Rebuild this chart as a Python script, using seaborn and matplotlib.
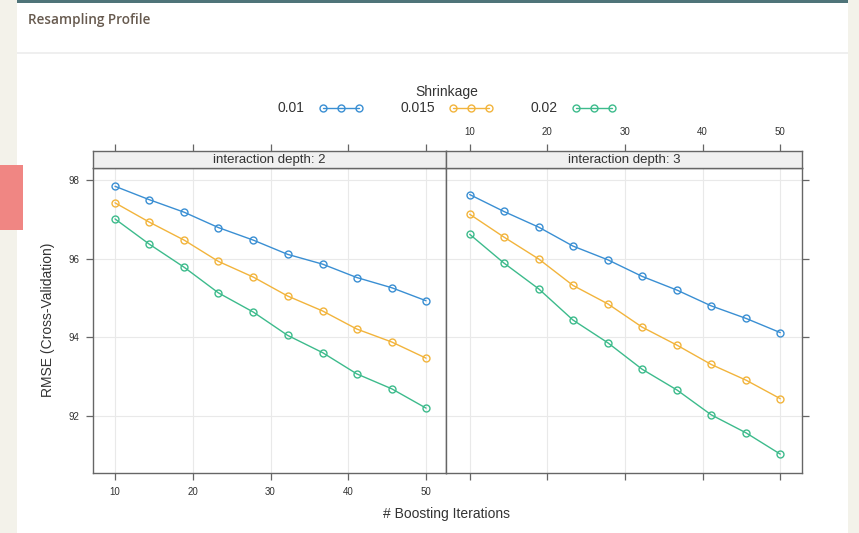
import numpy as np
import pandas as pd
import matplotlib
matplotlib.use("Agg")
import matplotlib.pyplot as plt
import seaborn as sns
from matplotlib.lines import Line2D
from matplotlib.patches import Rectangle

# ---------------- data ----------------
iterations = [10, 14.4, 18.9, 23.3, 27.8, 32.2, 36.7, 41.1, 45.6, 50]
shrinkage_levels = ["0.01", "0.015", "0.02"]
depth_levels = [2, 3]
rmse_d2_s001 = [97.84, 97.50, 97.18, 96.79, 96.47, 96.11, 95.86, 95.52, 95.26, 94.93]
rmse_d2_s0015 = [97.42, 96.93, 96.47, 95.93, 95.53, 95.05, 94.67, 94.21, 93.88, 93.47]
rmse_d2_s002 = [97.01, 96.37, 95.78, 95.13, 94.64, 94.05, 93.61, 93.07, 92.69, 92.20]
rmse_d3_s001 = [97.63, 97.20, 96.80, 96.32, 95.97, 95.55, 95.20, 94.80, 94.48, 94.12]
rmse_d3_s0015 = [97.13, 96.55, 95.99, 95.32, 94.85, 94.26, 93.80, 93.31, 92.91, 92.44]
rmse_d3_s002 = [96.62, 95.89, 95.23, 94.44, 93.86, 93.19, 92.66, 92.03, 91.57, 91.03]
x_ticks = [10, 20, 30, 40, 50]
y_ticks = [92, 94, 96, 98]
strip_labels = ["interaction depth: 2", "interaction depth: 3"]

series_by_depth = {
    2: [rmse_d2_s001, rmse_d2_s0015, rmse_d2_s002],
    3: [rmse_d3_s001, rmse_d3_s0015, rmse_d3_s002],
}
records = []
for depth in depth_levels:
    for lvl, vals in zip(shrinkage_levels, series_by_depth[depth]):
        for it, v in zip(iterations, vals):
            records.append({"iterations": it, "RMSE": v, "shrinkage": lvl, "depth": depth})
df = pd.DataFrame(records)

colors = ["#3A8FD3", "#F2B43C", "#3DBB8C"]
palette = dict(zip(shrinkage_levels, colors))

# ---------------- style ----------------
sns.set_style("white")
plt.rcParams["font.family"] = ["Liberation Sans", "DejaVu Sans"]

W, H = 859, 533
fig = plt.figure(figsize=(W / 100, H / 100), dpi=100)
fig.patch.set_facecolor("white")


def rect(l, t, r, b):
    return [l / W, 1 - b / H, (r - l) / W, (b - t) / H]


def fig_rect(l, t, w, h, color, z=-10):
    fig.add_artist(Rectangle((l / W, 1 - (t + h) / H), w / W, h / H,
                             transform=fig.transFigure, facecolor=color,
                             edgecolor="none", zorder=z))


# page decorations
fig_rect(0, 0, 17, H, "#f3f2ea")
fig_rect(848, 0, W - 848, H, "#f3f2ea")
fig_rect(17, 0, 831, 3, "#4f7479")
fig_rect(17, 52, 831, 1.5, "#efefef")
fig_rect(0, 165, 23, 65, "#f08683")
fig.text(28 / W, 1 - 20 / H, "Resampling Profile", va="center", ha="left",
         fontsize=9.8, fontweight="semibold", color="#675a4f",
         family=["Open Sans", "DejaVu Sans"])

frame_col = "#666666"
tick_kw = dict(direction="out", length=5, width=0.9, colors=frame_col,
               labelcolor="#333333", labelsize=7, pad=5)

panels = [
    dict(depth=2, box=(93, 168, 446, 473), strip=(93, 151, 446, 168), xlim=(7.17, 52.57)),
    dict(depth=3, box=(446, 168, 802, 473), strip=(446, 151, 802, 168), xlim=(6.95, 52.8)),
]
ylim = (90.55, 98.305)

for i, p in enumerate(panels):
    ax = fig.add_axes(rect(*p["box"]))
    sub = df[df["depth"] == p["depth"]]
    sns.lineplot(data=sub, x="iterations", y="RMSE", hue="shrinkage",
                 hue_order=shrinkage_levels, palette=palette, marker="o",
                 markersize=5, linewidth=1.0, legend=False, ax=ax,
                 errorbar=None)
    for ln in ax.lines:
        ln.set_markerfacecolor("none")
        ln.set_markeredgecolor(ln.get_color())
        ln.set_markeredgewidth(1.0)
    ax.set_xlim(*p["xlim"])
    ax.set_ylim(*ylim)
    ax.set_xticks(x_ticks)
    ax.set_yticks(y_ticks)
    ax.grid(True, color="#e9e9e9", linewidth=0.8)
    ax.set_axisbelow(True)
    ax.set_xlabel("")
    ax.set_ylabel("")
    for s in ax.spines.values():
        s.set_color(frame_col)
        s.set_linewidth(1.0)
    ax.tick_params(axis="both", **tick_kw)
    if i == 0:
        ax.tick_params(axis="x", bottom=True, top=False, labelbottom=True)
        ax.tick_params(axis="y", left=True, right=False, labelleft=True)
    else:
        ax.tick_params(axis="x", bottom=True, top=False, labelbottom=False)
        ax.tick_params(axis="y", left=False, right=True, labelleft=False,
                       labelright=False)

    sax = fig.add_axes(rect(*p["strip"]))
    sax.set_facecolor("#f0f0f0")
    sax.set_xlim(*p["xlim"])
    sax.set_ylim(0, 1)
    sax.set_yticks([])
    sax.set_xticks(x_ticks)
    for s in sax.spines.values():
        s.set_color(frame_col)
        s.set_linewidth(1.0)
    sax.tick_params(axis="x", **tick_kw)
    sax.tick_params(axis="x", top=True, bottom=False, labelbottom=False,
                    labeltop=(i == 1))
    sax.text(0.5, 0.5, strip_labels[i], transform=sax.transAxes, ha="center",
             va="center", fontsize=9.5, color="#333333")

# legend
handles = [Line2D([], [], color=c, marker="o", markerfacecolor="none",
                  markeredgecolor=c, markersize=5, linewidth=1.0) for c in colors]
leg = fig.legend(handles, shrinkage_levels, title="Shrinkage", ncol=3,
                 loc="center", bbox_to_anchor=(447 / W, 1 - 100 / H),
                 frameon=False, markerfirst=False, numpoints=3,
                 handlelength=3.2, handletextpad=1.0, columnspacing=2.7,
                 fontsize=10, title_fontsize=10, borderpad=0.2,
                 labelspacing=0.2)
for t in leg.get_texts():
    t.set_color("#333333")
leg.get_title().set_color("#333333")

fig.text(48 / W, 1 - 320 / H, "RMSE (Cross-Validation)", rotation=90,
         ha="center", va="center", fontsize=10, color="#333333")
fig.text(447 / W, 1 - 514 / H, "# Boosting Iterations", ha="center",
         va="center", fontsize=10, color="#333333")

fig.savefig("out.png", dpi=100)
